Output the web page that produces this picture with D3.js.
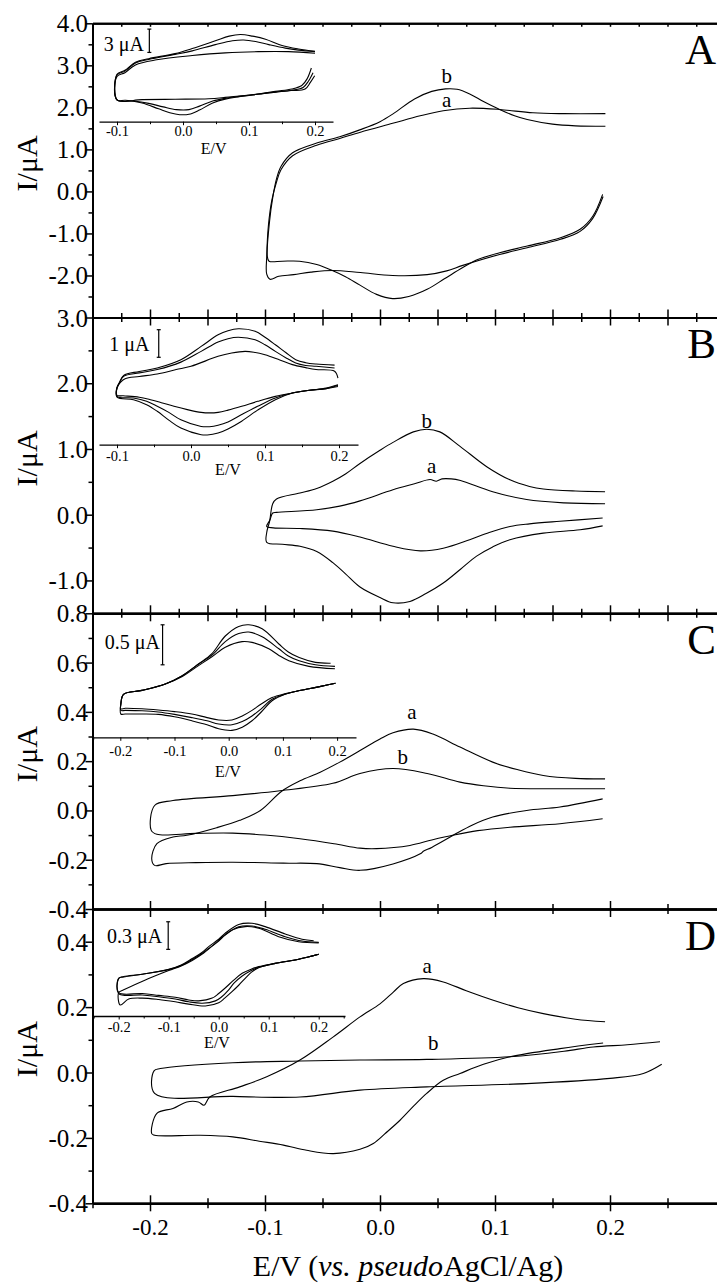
<!DOCTYPE html>
<html><head><meta charset="utf-8">
<script src="https://cdn.jsdelivr.net/npm/d3@7"></script>
<style>
body{margin:0;background:#fff;}
svg{display:block;}
text{font-family:"Liberation Serif","Times New Roman",Times,serif;fill:#000;}
</style></head><body>
<svg id="chart" width="717" height="1285"></svg>
<script>
// ---------------- DATA ----------------
const X_DOMAIN = [-0.25, 0.3];
const X_TICK_LABELS = [-0.2, -0.1, 0.0, 0.1, 0.2];

const A_Y_LABELS = [4, 3, 2, 1, 0, -1, -2];
const B_Y_LABELS = [3, 2, 1, 0, -1];
const C_Y_LABELS = [0.8, 0.6, 0.4, 0.2, 0.0, -0.2, -0.4];
const D_Y_LABELS = [0.4, 0.2, 0.0, -0.2, -0.4];
const A_Y_MINOR = [3.5, 2.5, 1.5, 0.5, -0.5, -1.5, -2.5];
const B_Y_MINOR = [2.5, 1.5, 0.5, -0.5];
const C_Y_MINOR = [0.7, 0.5, 0.3, 0.1, -0.1, -0.3];
const D_Y_MINOR = [0.3, 0.1, -0.1, -0.3];
const A_Y_DOMAIN = [-3, 4], B_Y_DOMAIN = [-1.5, 3], C_Y_DOMAIN = [-0.4, 0.8], D_Y_DOMAIN = [-0.4, 0.5];

// main CV curves: [E (V), I (uA)]
const A_a = [[0.194,-0.12],[0.185,-0.64],[0.174,-0.95],[0.157,-1.14],[0.128,-1.34],[0.104,-1.5],[0.072,-1.76],[0.058,-1.89],[0.041,-1.98],[0.011,-2.0],[-0.017,-1.93],[-0.041,-1.88],[-0.06,-1.92],[-0.075,-1.98],[-0.088,-2.02],[-0.0957,-2.09],[-0.0985,-1.97],[-0.0985,-1.55],[-0.097,-0.8],[-0.094,-0.2],[-0.09,0.22],[-0.086,0.52],[-0.076,0.85],[-0.055,1.1],[-0.035,1.26],[-0.017,1.41],[0.011,1.62],[0.035,1.8],[0.055,1.92],[0.078,1.98],[0.104,1.95],[0.133,1.87],[0.16,1.85],[0.196,1.85]];
const A_b = [[0.1936,-0.07],[0.185,-0.59],[0.174,-0.9],[0.157,-1.1],[0.128,-1.3],[0.104,-1.46],[0.085,-1.62],[0.072,-1.81],[0.056,-2.08],[0.041,-2.33],[0.025,-2.5],[0.011,-2.55],[-0.003,-2.45],[-0.0174,-2.23],[-0.03,-2.03],[-0.041,-1.89],[-0.055,-1.74],[-0.07,-1.66],[-0.085,-1.66],[-0.0965,-1.66],[-0.098,-1.54],[-0.096,-0.7],[-0.093,-0.1],[-0.09,0.3],[-0.086,0.6],[-0.076,0.92],[-0.055,1.15],[-0.035,1.3],[-0.017,1.47],[0.0,1.66],[0.0116,1.85],[0.03,2.2],[0.045,2.38],[0.057,2.44],[0.067,2.43],[0.078,2.32],[0.09,2.14],[0.104,1.95],[0.117,1.8],[0.128,1.71],[0.15,1.6],[0.17,1.56],[0.196,1.55]];

const B_a = [[0.1936,-0.05],[0.1565,-0.10],[0.13,-0.14],[0.113,-0.18],[0.095,-0.27],[0.078,-0.38],[0.055,-0.51],[0.035,-0.55],[0.0113,-0.48],[-0.0174,-0.34],[-0.041,-0.25],[-0.0696,-0.21],[-0.0928,-0.20],[-0.0985,-0.18],[-0.0957,-0.08],[-0.0933,0.026],[-0.09,0.035],[-0.055,0.076],[-0.035,0.13],[-0.0174,0.21],[0.0113,0.38],[0.03,0.47],[0.0435,0.535],[0.049,0.51],[0.054,0.545],[0.062,0.545],[0.07,0.52],[0.098,0.35],[0.1275,0.23],[0.16,0.18],[0.1957,0.167]];
const B_b = [[0.1936,-0.17],[0.174,-0.23],[0.142,-0.28],[0.113,-0.38],[0.098,-0.49],[0.084,-0.63],[0.07,-0.83],[0.055,-1.04],[0.04,-1.2],[0.026,-1.32],[0.0113,-1.34],[0,-1.26],[-0.0174,-1.10],[-0.03,-0.9],[-0.041,-0.73],[-0.055,-0.56],[-0.0696,-0.48],[-0.085,-0.45],[-0.0985,-0.42],[-0.0985,-0.27],[-0.096,-0.1],[-0.0933,0.167],[-0.09,0.24],[-0.0696,0.33],[-0.055,0.40],[-0.041,0.51],[-0.03,0.62],[-0.0174,0.78],[0.0,0.98],[0.0113,1.1],[0.029,1.26],[0.0406,1.30],[0.052,1.26],[0.0696,1.04],[0.0928,0.73],[0.113,0.53],[0.13,0.43],[0.142,0.39],[0.17,0.36],[0.1957,0.35]];

const C_a = [[0.1936,0.047],[0.1565,0.014],[0.1275,0],[0.098,-0.027],[0.08,-0.06],[0.064,-0.10],[0.045,-0.15],[0.038,-0.165],[0.035,-0.176],[0.0113,-0.217],[-0.0174,-0.243],[-0.035,-0.232],[-0.055,-0.216],[-0.084,-0.214],[-0.128,-0.21],[-0.16,-0.212],[-0.186,-0.216],[-0.196,-0.223],[-0.1985,-0.196],[-0.194,-0.135],[-0.18,-0.108],[-0.168,-0.101],[-0.142,-0.07],[-0.122,-0.04],[-0.104,0],[-0.0855,0.078],[-0.0696,0.12],[-0.052,0.155],[-0.035,0.196],[-0.0174,0.243],[0.0,0.29],[0.0113,0.315],[0.029,0.33],[0.046,0.31],[0.0696,0.257],[0.098,0.196],[0.12,0.165],[0.142,0.142],[0.17,0.13],[0.1957,0.128]];
const C_b = [[0.1936,-0.034],[0.1565,-0.054],[0.113,-0.068],[0.085,-0.082],[0.064,-0.10],[0.045,-0.12],[0.026,-0.142],[-0.003,-0.155],[-0.0174,-0.153],[-0.04,-0.135],[-0.0696,-0.115],[-0.1,-0.1],[-0.128,-0.092],[-0.16,-0.093],[-0.194,-0.097],[-0.199,-0.08],[-0.196,0.02],[-0.18,0.04],[-0.128,0.06],[-0.087,0.08],[-0.041,0.11],[-0.0174,0.15],[0.0113,0.17],[0.041,0.15],[0.0696,0.115],[0.09,0.1],[0.113,0.09],[0.15,0.088],[0.1957,0.088]];

const D_a = [[0.194,0.09],[0.1565,0.073],[0.113,0.048],[0.09,0.025],[0.0696,-0.003],[0.055,-0.024],[0.0406,-0.064],[0.03,-0.1],[0.0174,-0.146],[0.005,-0.185],[-0.0058,-0.217],[-0.0174,-0.235],[-0.0406,-0.248],[-0.0638,-0.238],[-0.084,-0.222],[-0.105,-0.21],[-0.128,-0.197],[-0.157,-0.192],[-0.196,-0.192],[-0.1985,-0.187],[-0.194,-0.125],[-0.18,-0.11],[-0.168,-0.09],[-0.158,-0.09],[-0.153,-0.1],[-0.148,-0.075],[-0.122,-0.044],[-0.0985,-0.013],[-0.0696,0.038],[-0.0406,0.109],[-0.0174,0.17],[0.0,0.21],[0.0116,0.246],[0.0203,0.272],[0.0377,0.287],[0.055,0.277],[0.075,0.25],[0.0985,0.221],[0.12,0.198],[0.142,0.18],[0.17,0.163],[0.1957,0.155]];
const D_b = [[0.245,0.025],[0.229,-0.003],[0.2,-0.018],[0.1275,-0.034],[0.0406,-0.044],[-0.0174,-0.054],[-0.0696,-0.075],[-0.128,-0.073],[-0.196,-0.064],[-0.1965,0.005],[-0.191,0.012],[-0.128,0.03],[-0.0696,0.035],[-0.0174,0.038],[0.0406,0.04],[0.113,0.048],[0.16,0.065],[0.1855,0.078],[0.215,0.085],[0.2435,0.094]];

// inset curves: [E (V), I (uA, relative)]
const insA_1 = [[0.1945,0.9],[0.188,-0.5],[0.18,-1.35],[0.165,-1.8],[0.14,-2.1],[0.115,-2.45],[0.085,-2.8],[0.064,-3.1],[0.045,-3.6],[0.025,-4.5],[0.009,-5.05],[-0.005,-5.1],[-0.02,-4.85],[-0.037,-4.35],[-0.062,-3.6],[-0.087,-3.25],[-0.1,-3.2],[-0.1,0.1],[-0.088,0.6],[-0.072,1.65],[-0.052,2.1],[-0.012,2.75],[0.014,3.4],[0.049,4.4],[0.07,5.0],[0.087,5.2],[0.105,5.0],[0.125,4.6],[0.15,3.8],[0.175,3.35],[0.2,3.05]];
const insA_2 = [[0.1995,-0.1],[0.193,-0.95],[0.185,-1.8],[0.165,-2.0],[0.14,-2.2],[0.115,-2.45],[0.085,-2.75],[0.064,-3.0],[0.045,-3.35],[0.025,-4.0],[0.009,-4.45],[-0.01,-4.45],[-0.03,-4.1],[-0.052,-3.65],[-0.075,-3.35],[-0.1,-3.2],[-0.1,0.0],[-0.088,0.5],[-0.072,1.55],[-0.052,2.0],[-0.012,2.65],[0.014,3.1],[0.049,3.9],[0.075,4.4],[0.092,4.5],[0.11,4.3],[0.13,3.9],[0.155,3.45],[0.175,3.2],[0.2,3.0]];
const insA_3 = [[0.197,0.3],[0.19,-0.8],[0.182,-1.6],[0.165,-1.95],[0.14,-2.2],[0.115,-2.45],[0.085,-2.7],[0.064,-2.88],[0.039,-3.05],[-0.012,-3.12],[-0.062,-3.17],[-0.1,-3.21],[-0.1,-0.2],[-0.088,0.3],[-0.072,1.3],[-0.04,1.95],[0.014,2.5],[0.064,2.85],[0.114,3.0],[0.16,3.0],[0.2,2.8]];

const insB_1 = [[0.1986,-0.12],[0.1826,-0.24],[0.16,-0.3],[0.137,-0.40],[0.114,-0.64],[0.09,-1.02],[0.0685,-1.42],[0.05,-1.7],[0.0366,-1.85],[0.022,-1.92],[0.0137,-1.91],[-0.0137,-1.67],[-0.03,-1.38],[-0.0456,-1.06],[-0.06,-0.82],[-0.0777,-0.64],[-0.1,-0.55],[-0.1,-0.22],[-0.097,-0.04],[-0.091,0.24],[-0.07,0.38],[-0.0456,0.51],[-0.0137,0.81],[0.0137,1.29],[0.0366,1.71],[0.05,1.86],[0.064,1.93],[0.0867,1.84],[0.1,1.62],[0.114,1.35],[0.128,1.07],[0.1415,0.81],[0.155,0.7],[0.169,0.65],[0.194,0.61]];
const insB_2 = [[0.1986,-0.16],[0.1826,-0.24],[0.16,-0.3],[0.137,-0.40],[0.114,-0.58],[0.09,-0.88],[0.0685,-1.18],[0.05,-1.45],[0.0366,-1.57],[0.025,-1.62],[0.0137,-1.61],[-0.0137,-1.37],[-0.03,-1.1],[-0.0456,-0.88],[-0.06,-0.7],[-0.0777,-0.58],[-0.1,-0.52],[-0.1,-0.22],[-0.097,-0.04],[-0.091,0.21],[-0.07,0.33],[-0.0456,0.45],[-0.0137,0.72],[0.0137,1.11],[0.0366,1.45],[0.05,1.57],[0.064,1.62],[0.0867,1.53],[0.1,1.35],[0.114,1.11],[0.128,0.88],[0.1415,0.69],[0.155,0.6],[0.169,0.57],[0.194,0.51]];
const insB_3 = [[0.1986,-0.1],[0.1826,-0.22],[0.16,-0.3],[0.137,-0.40],[0.114,-0.52],[0.09,-0.7],[0.0685,-0.88],[0.05,-1.02],[0.0366,-1.1],[0.025,-1.12],[0.0137,-1.10],[-0.005,-1.0],[-0.023,-0.88],[-0.04,-0.75],[-0.0548,-0.64],[-0.07,-0.55],[-0.0914,-0.50],[-0.1,-0.48],[-0.1,-0.2],[-0.095,0.0],[-0.089,0.12],[-0.07,0.2],[-0.0456,0.29],[-0.02,0.45],[0,0.57],[0.0366,0.93],[0.055,1.05],[0.073,1.11],[0.085,1.08],[0.1,0.99],[0.12,0.8],[0.137,0.63],[0.155,0.52],[0.169,0.45],[0.194,0.39],[0.1986,0.14]];

const insC_1 = [[0.197,-0.04],[0.17,-0.08],[0.148,-0.11],[0.125,-0.14],[0.105,-0.175],[0.08,-0.26],[0.06,-0.4],[0.043,-0.51],[0.025,-0.59],[0.006,-0.63],[-0.0185,-0.61],[-0.04,-0.56],[-0.068,-0.51],[-0.1,-0.46],[-0.13,-0.43],[-0.16,-0.425],[-0.191,-0.425],[-0.199,-0.425],[-0.199,-0.3],[-0.194,-0.18],[-0.16,-0.13],[-0.117,-0.05],[-0.0865,0.05],[-0.0556,0.2],[-0.031,0.33],[-0.0063,0.55],[0.0185,0.67],[0.037,0.69],[0.0617,0.64],[0.0926,0.45],[0.11,0.35],[0.13,0.28],[0.16,0.22],[0.188,0.21]];
const insC_2 = [[0.197,-0.04],[0.17,-0.08],[0.148,-0.11],[0.125,-0.14],[0.105,-0.175],[0.08,-0.24],[0.06,-0.36],[0.043,-0.45],[0.025,-0.52],[0.006,-0.56],[-0.0185,-0.55],[-0.04,-0.51],[-0.068,-0.47],[-0.1,-0.43],[-0.13,-0.4],[-0.16,-0.385],[-0.191,-0.38],[-0.199,-0.38],[-0.199,-0.3],[-0.194,-0.18],[-0.16,-0.13],[-0.117,-0.05],[-0.0865,0.05],[-0.0556,0.2],[-0.031,0.31],[-0.0063,0.48],[0.0185,0.58],[0.037,0.60],[0.0617,0.54],[0.0926,0.39],[0.11,0.3],[0.13,0.24],[0.16,0.19],[0.196,0.17]];
const insC_3 = [[0.197,-0.04],[0.17,-0.08],[0.148,-0.11],[0.125,-0.14],[0.105,-0.17],[0.08,-0.22],[0.06,-0.3],[0.043,-0.38],[0.025,-0.45],[0.006,-0.5],[-0.0185,-0.5],[-0.04,-0.47],[-0.068,-0.425],[-0.1,-0.395],[-0.13,-0.375],[-0.16,-0.36],[-0.191,-0.354],[-0.199,-0.36],[-0.199,-0.3],[-0.194,-0.18],[-0.16,-0.13],[-0.117,-0.05],[-0.0865,0.04],[-0.0556,0.18],[-0.031,0.29],[-0.0063,0.41],[0.0247,0.48],[0.043,0.47],[0.074,0.39],[0.092,0.31],[0.111,0.24],[0.148,0.17],[0.196,0.14]];

const insD_1 = [[0.2,0.116],[0.16,0.062],[0.113,0.018],[0.08,-0.018],[0.065,-0.045],[0.047,-0.09],[0.03,-0.165],[0.013,-0.25],[0.0,-0.31],[-0.013,-0.36],[-0.04,-0.39],[-0.06,-0.38],[-0.087,-0.35],[-0.12,-0.33],[-0.153,-0.31],[-0.2,-0.30],[-0.2,-0.145],[-0.19,-0.125],[-0.153,-0.1],[-0.1,-0.047],[-0.075,0.0],[-0.053,0.07],[-0.035,0.13],[-0.02,0.2],[0.0,0.28],[0.013,0.345],[0.04,0.44],[0.0666,0.453],[0.093,0.417],[0.133,0.337],[0.1666,0.28],[0.19,0.264]];
const insD_2 = [[0.2,0.116],[0.16,0.062],[0.113,0.018],[0.08,-0.025],[0.065,-0.06],[0.047,-0.12],[0.03,-0.2],[0.02,-0.27],[0.005,-0.35],[-0.0066,-0.39],[-0.033,-0.416],[-0.06,-0.4],[-0.087,-0.37],[-0.12,-0.345],[-0.153,-0.326],[-0.2,-0.31],[-0.2,-0.145],[-0.19,-0.13],[-0.153,-0.1],[-0.1,-0.05],[-0.075,-0.005],[-0.053,0.06],[-0.035,0.12],[-0.02,0.18],[0.0,0.26],[0.013,0.325],[0.04,0.415],[0.0666,0.424],[0.093,0.388],[0.133,0.308],[0.1666,0.26],[0.2,0.246]];
const insD_3 = [[0.2,0.116],[0.16,0.062],[0.113,0.018],[0.08,-0.03],[0.065,-0.08],[0.053,-0.145],[0.04,-0.22],[0.0266,-0.29],[0.012,-0.36],[0,-0.41],[-0.0266,-0.445],[-0.06,-0.425],[-0.087,-0.4],[-0.12,-0.375],[-0.153,-0.36],[-0.18,-0.37],[-0.197,-0.435],[-0.2,-0.30],[-0.19,-0.27],[-0.15,-0.17],[-0.1,-0.06],[-0.075,-0.01],[-0.053,0.05],[-0.03,0.13],[-0.01,0.22],[0.0,0.27],[0.0266,0.38],[0.053,0.417],[0.08,0.40],[0.12,0.308],[0.16,0.253],[0.2,0.24]];

const INSET_A_TICKS = [-0.1, 0.0, 0.1, 0.2];
const INSET_B_TICKS = [-0.1, 0.0, 0.1, 0.2];
const INSET_C_TICKS = [-0.2, -0.1, 0.0, 0.1, 0.2];
const INSET_D_TICKS = [-0.2, -0.1, 0.0, 0.1, 0.2];
const SCALE_BAR_VALUES = [3, 1, 0.5, 0.3];
const SCALE_BAR_TEXT = ["3 μA", "1 μA", "0.5 μA", "0.3 μA"];
const PANEL_NAMES = ["A", "B", "C", "D"];

// ---------------- LAYOUT ----------------
const svg = d3.select("#chart");
const AX_X = 92.5;
const x = d3.scaleLinear().domain(X_DOMAIN).range([AX_X, 725]);
const fmt = d => (+d).toFixed(1);
const step = (a, b, s) => d3.range(Math.round(a / s), Math.round(b / s) + 1).map(i => +(i * s).toFixed(4));

const panels = [
  {dom: A_Y_DOMAIN, range: [317.5, 23.3], labels: A_Y_LABELS, minor: A_Y_MINOR, curves: [A_a, A_b],
   tags: [{t: "b", E: 0.058, I: 2.59}, {t: "a", E: 0.058, I: 2.02}]},
  {dom: B_Y_DOMAIN, range: [613.3, 317.5], labels: B_Y_LABELS, minor: B_Y_MINOR, curves: [B_a, B_b],
   tags: [{t: "b", E: 0.0406, I: 1.32}, {t: "a", E: 0.045, I: 0.64}]},
  {dom: C_Y_DOMAIN, range: [909, 613.3], labels: C_Y_LABELS, minor: C_Y_MINOR, curves: [C_a, C_b],
   tags: [{t: "a", E: 0.0278, I: 0.373}, {t: "b", E: 0.0197, I: 0.19}]},
  {dom: D_Y_DOMAIN, range: [1203.3, 909], labels: D_Y_LABELS, minor: D_Y_MINOR, curves: [D_a, D_b],
   tags: [{t: "a", E: 0.041, I: 0.305}, {t: "b", E: 0.0464, I: 0.068}]}
];

const insets = [
  {xr: [99, 333], x0: 183, kx: 660, axisY: 121.7, y0: 75, k: 7.78, ticks: INSET_A_TICKS, lblDy: 14, ev: [213.7, 154],
   bar: {E: -0.051, I0: 2.9, tx: 103.7, ty: 50.7}, curves: [insA_1, insA_2, insA_3]},
  {xr: [99, 358], x0: 191, kx: 740, axisY: 444.7, y0: 382, k: 27.6, ticks: INSET_B_TICKS, lblDy: 16, ev: [228, 475.3],
   bar: {E: -0.0436, I0: 0.895, tx: 109.3, ty: 351.3}, curves: [insB_1, insB_2, insB_3]},
  {xr: [92.5, 356], x0: 228.7, kx: 542, axisY: 737.3, y0: 680, k: 80, ticks: INSET_C_TICKS, lblDy: 18.4, ev: [228, 776.7],
   bar: {E: -0.122, I0: 0.19, tx: 104.7, ty: 649}, curves: [insC_1, insC_2, insC_3]},
  {xr: [92.5, 345], x0: 218.7, kx: 500, axisY: 1016, y0: 965, k: 92, ticks: INSET_D_TICKS, lblDy: 15.7, ev: [217, 1048],
   bar: {E: -0.101, I0: 0.17, tx: 107, ty: 943.3}, curves: [insD_1, insD_2, insD_3]}
];

function styleAxis(g, w) {
  g.attr("font-family", null).attr("font-size", null);
  g.select(".domain").attr("stroke-width", w);
  g.selectAll(".tick line").attr("stroke-width", 1.5);
}

// horizontal frame lines with crossing ticks
function hLine(yPos, majors, minors, upMaj, dnMaj, upMin, dnMin, labels) {
  const mk = (axis, vals, size) => {
    const g = svg.append("g").attr("transform", `translate(0,${yPos})`)
      .call(axis(x).tickValues(vals).tickSize(size).tickSizeOuter(0).tickFormat(""));
    styleAxis(g, 2);
    return g;
  };
  if (dnMaj > 0) mk(d3.axisBottom, majors, dnMaj);
  if (upMaj > 0) mk(d3.axisTop, majors, upMaj);
  if (dnMin > 0) mk(d3.axisBottom, minors, dnMin);
  if (upMin > 0) mk(d3.axisTop, minors, upMin);
  if (labels) {
    const g = svg.append("g").attr("transform", `translate(0,${yPos})`)
      .call(d3.axisBottom(x).tickValues(labels).tickSize(0).tickSizeOuter(0).tickFormat(fmt));
    g.attr("font-family", null).attr("font-size", null);
    g.select(".domain").remove();
    g.selectAll("text").attr("y", 31.5).attr("dy", 0).style("font-size", "23px");
  }
}
const odd = (vals, s) => vals.filter(v => Math.abs(Math.round(v / s) % 2) === 1);
const q = step(-0.25, 0.3, 0.025), h = step(-0.25, 0.3, 0.05);
hLine(23.3, h, odd(q, 0.025), 0, 3.5, 0, 3.5);
hLine(317.5, h, odd(q, 0.025), 8, 8, 4.5, 4.5);
hLine(613.3, h, odd(q, 0.025), 8, 8, 4.5, 4.5);
const t1 = step(-0.2, 0.3, 0.1), t05 = odd(h, 0.05);
hLine(909, t1, t05, 8, 8, 5, 5);
hLine(1203.3, t1, t05, 8, 8, 5, 5, X_TICK_LABELS);

const lineGen = (xs, ys) => d3.line().x(d => xs(d[0])).y(d => ys(d[1])).curve(d3.curveCatmullRom.alpha(0.5));

panels.forEach((p, i) => {
  const y = d3.scaleLinear().domain(p.dom).range(p.range);
  const gL = svg.append("g").attr("transform", `translate(${AX_X},0)`)
    .call(d3.axisLeft(y).tickValues(p.labels).tickSize(7).tickSizeOuter(0).tickFormat(fmt));
  styleAxis(gL, 2);
  gL.selectAll("text").attr("x", -4.5).attr("dy", "0.34em").style("font-size", "25px");
  const gM = svg.append("g").attr("transform", `translate(${AX_X},0)`)
    .call(d3.axisLeft(y).tickValues(p.minor).tickSize(4).tickSizeOuter(0).tickFormat(""));
  styleAxis(gM, 2);

  const lg = lineGen(x, y);
  svg.append("g").selectAll("path").data(p.curves).join("path")
    .attr("d", lg).attr("fill", "none").attr("stroke", "#000").attr("stroke-width", 1.1);

  svg.append("g").selectAll("text").data(p.tags).join("text")
    .attr("x", d => x(d.E)).attr("y", d => y(d.I)).attr("text-anchor", "middle")
    .style("font-size", "21px").text(d => d.t);

  // y title
  const mid = (p.range[0] + p.range[1]) / 2 - 7;
  svg.append("text").attr("transform", `translate(37,${mid}) rotate(-90)`)
    .attr("text-anchor", "middle").style("font-size", "30px").text("I/μA");

  // panel letter
  svg.append("text").attr("x", 716).attr("y", p.range[1] + 40.5).attr("text-anchor", "end")
    .style("font-size", "43px").text(PANEL_NAMES[i]);

  // inset
  const ins = insets[i];
  const xi = d3.scaleLinear()
    .domain([(ins.xr[0] - ins.x0) / ins.kx, (ins.xr[1] - ins.x0) / ins.kx]).range(ins.xr);
  const yi = d3.scaleLinear().domain([0, 1]).range([ins.y0, ins.y0 - ins.k]);
  const dom = xi.domain();
  const maj = ins.ticks;
  const mins = step(-0.25, 0.25, 0.05).filter(v => v >= dom[0] && v <= dom[1] && !maj.some(m => Math.abs(m - v) < 1e-6));
  const ga = svg.append("g").attr("transform", `translate(0,${ins.axisY})`)
    .call(d3.axisBottom(xi).tickValues(maj).tickSize(3.5).tickSizeOuter(0).tickFormat(fmt));
  ga.attr("font-family", null).attr("font-size", null);
  ga.select(".domain").attr("stroke-width", 1.3);
  ga.selectAll(".tick line").attr("stroke-width", 1);
  ga.selectAll("text").attr("y", ins.lblDy).attr("dy", 0).style("font-size", "14.5px");
  const gb = svg.append("g").attr("transform", `translate(0,${ins.axisY})`)
    .call(d3.axisBottom(xi).tickValues(mins).tickSize(2.5).tickSizeOuter(0).tickFormat(""));
  gb.select(".domain").remove();
  gb.selectAll(".tick line").attr("stroke-width", 1);
  svg.append("text").attr("x", ins.ev[0]).attr("y", ins.ev[1]).attr("text-anchor", "middle")
    .style("font-size", "16px").text("E/V");

  const li = lineGen(xi, yi);
  svg.append("g").selectAll("path").data(ins.curves).join("path")
    .attr("d", li).attr("fill", "none").attr("stroke", "#000").attr("stroke-width", 1.1);

  // scale bar
  const bx = xi(ins.bar.E), by0 = yi(ins.bar.I0), by1 = yi(ins.bar.I0 + SCALE_BAR_VALUES[i]);
  const bar = svg.append("g").attr("stroke", "#000").attr("stroke-width", 1.2);
  bar.append("line").attr("x1", bx).attr("x2", bx).attr("y1", by0).attr("y2", by1);
  bar.append("line").attr("x1", bx - 2).attr("x2", bx + 2).attr("y1", by0).attr("y2", by0);
  bar.append("line").attr("x1", bx - 2).attr("x2", bx + 2).attr("y1", by1).attr("y2", by1);
  svg.append("text").attr("x", ins.bar.tx).attr("y", ins.bar.ty).style("font-size", "20px").text(SCALE_BAR_TEXT[i]);
});

// x title
const xt = svg.append("text").attr("x", 408).attr("y", 1276).attr("text-anchor", "middle").style("font-size", "30px");
xt.append("tspan").text("E/V (");
xt.append("tspan").attr("font-style", "italic").text("vs. pseudo");
xt.append("tspan").text("AgCl/Ag)");
</script>
</body></html>
